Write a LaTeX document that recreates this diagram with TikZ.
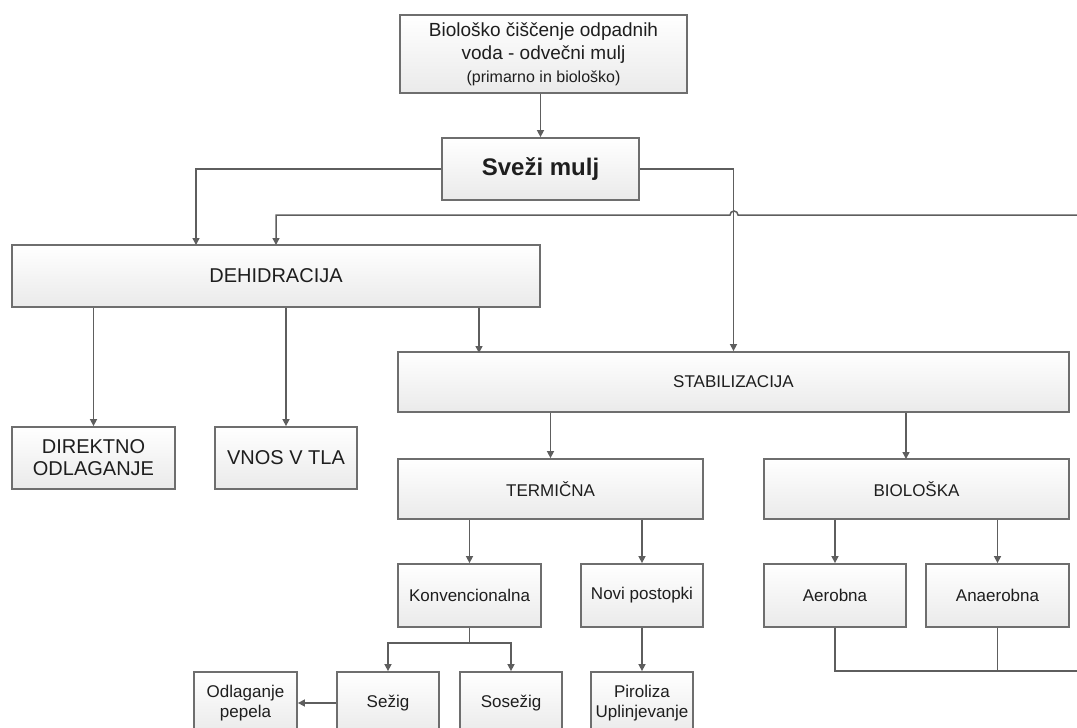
\documentclass[tikz,border=0pt]{standalone}
\usepackage{fontspec}
\setmainfont{Liberation Sans}
\usetikzlibrary{arrows.meta}
\definecolor{boxline}{HTML}{6E6E6E}
\definecolor{wirecol}{HTML}{5E5E5E}
\definecolor{boxtext}{HTML}{1E1E1E}
\definecolor{boxfoot}{HTML}{EAEAEA}
\begin{document}
\begin{tikzpicture}[x=1pt,y=-1pt,
  box/.style={draw=boxline, line width=1.8pt, top color=white, bottom color=boxfoot,
    text=boxtext, align=center, inner sep=2pt, font=\fontsize{17}{20}\selectfont},
  bigbox/.style={box, font=\fontsize{20}{22}\selectfont},
  wire/.style={draw=wirecol, line width=1.5pt},
  arr/.style={wire, -{Triangle[length=7pt,width=7pt]}}]
\useasboundingbox (0,0) rectangle (1077,728);

\node[box, minimum width=287pt, minimum height=78pt, font=\fontsize{19}{23}\selectfont] (src) at (543.5,54)
  {Biološko čiščenje odpadnih\\voda - odvečni mulj\\{\fontsize{16}{19}\selectfont(primarno in biološko)}};
\node[box, minimum width=197pt, minimum height=62pt, font=\fontsize{24}{26}\selectfont\bfseries] (svezi) at (540.5,169) {Sveži mulj};

\node[bigbox, minimum width=528pt, minimum height=62pt] (dehid) at (276,276) {DEHIDRACIJA};
\node[bigbox, minimum width=163pt, minimum height=62pt] (direkt) at (93.5,458) {DIREKTNO\\ODLAGANJE};
\node[bigbox, minimum width=142pt, minimum height=62pt] (vnos) at (286,458) {VNOS V TLA};

\node[box, minimum width=671pt, minimum height=60pt] (stab) at (733.5,382) {STABILIZACIJA};
\node[box, minimum width=305pt, minimum height=60pt] (term) at (550.5,489) {TERMIČNA};
\node[box, minimum width=305pt, minimum height=60pt] (biol) at (916.5,489) {BIOLOŠKA};

\node[box, minimum width=143pt, minimum height=63pt] (konv) at (469.5,595.5) {Konvencionalna};
\node[box, minimum width=122pt, minimum height=63pt] (novi) at (642,595.5) {Novi postopki};
\node[box, minimum width=142pt, minimum height=63pt] (aero) at (835,595.5) {Aerobna};
\node[box, minimum width=143pt, minimum height=63pt] (anaero) at (997.5,595.5) {Anaerobna};

\node[box, minimum width=103pt, minimum height=62pt] (odl) at (245.5,703) {Odlaganje\\pepela};
\node[box, minimum width=102pt, minimum height=62pt] (sezig) at (388,703) {Sežig};
\node[box, minimum width=102pt, minimum height=62pt] (sosezig) at (511,703) {Sosežig};
\node[box, minimum width=102pt, minimum height=62pt] (piro) at (642,703) {Piroliza\\Uplinjevanje};

% free ends and drop points
\coordinate (dh1) at (196,245);
\coordinate (dh2) at (276,245);
\coordinate (st1) at (479,353);
\coordinate (bi1) at (906,459);
\coordinate (rin) at (1077,215);
\coordinate (rout) at (1077,671);

\draw[arr] (svezi.north |- src.south) -- (svezi.north);
\draw[arr] (svezi.west) -| (dh1);
\draw[arr] (svezi.east) -| (stab.north);
\draw[arr] (rin) -- (738,215) arc[start angle=0, end angle=-180, radius=4] -- (276,215) -- (dh2);

\draw[arr] (direkt.north |- dehid.south) -- (direkt.north);
\draw[arr] (vnos.north |- dehid.south) -- (vnos.north);
\draw[arr] (st1 |- dehid.south) -- (st1);

\draw[arr] (term.north |- stab.south) -- (term.north);
\draw[arr] (bi1 |- stab.south) -- (bi1);

\draw[arr] (konv.north |- term.south) -- (konv.north);
\draw[arr] (novi.north |- term.south) -- (novi.north);
\draw[arr] (aero.north |- biol.south) -- (aero.north);
\draw[arr] (anaero.north |- biol.south) -- (anaero.north);

\draw[wire] (konv.south) -- ++(0,15) coordinate (kj);
\draw[arr] (kj) -| (sezig.north);
\draw[arr] (kj) -| (sosezig.north);
\draw[arr] (novi.south) -- (piro.north);
\draw[arr] (sezig.west) -- (odl.east);

\draw[wire] (aero.south) |- (rout);
\draw[wire] (anaero.south) -- (anaero.south |- rout);
\end{tikzpicture}
\end{document}
